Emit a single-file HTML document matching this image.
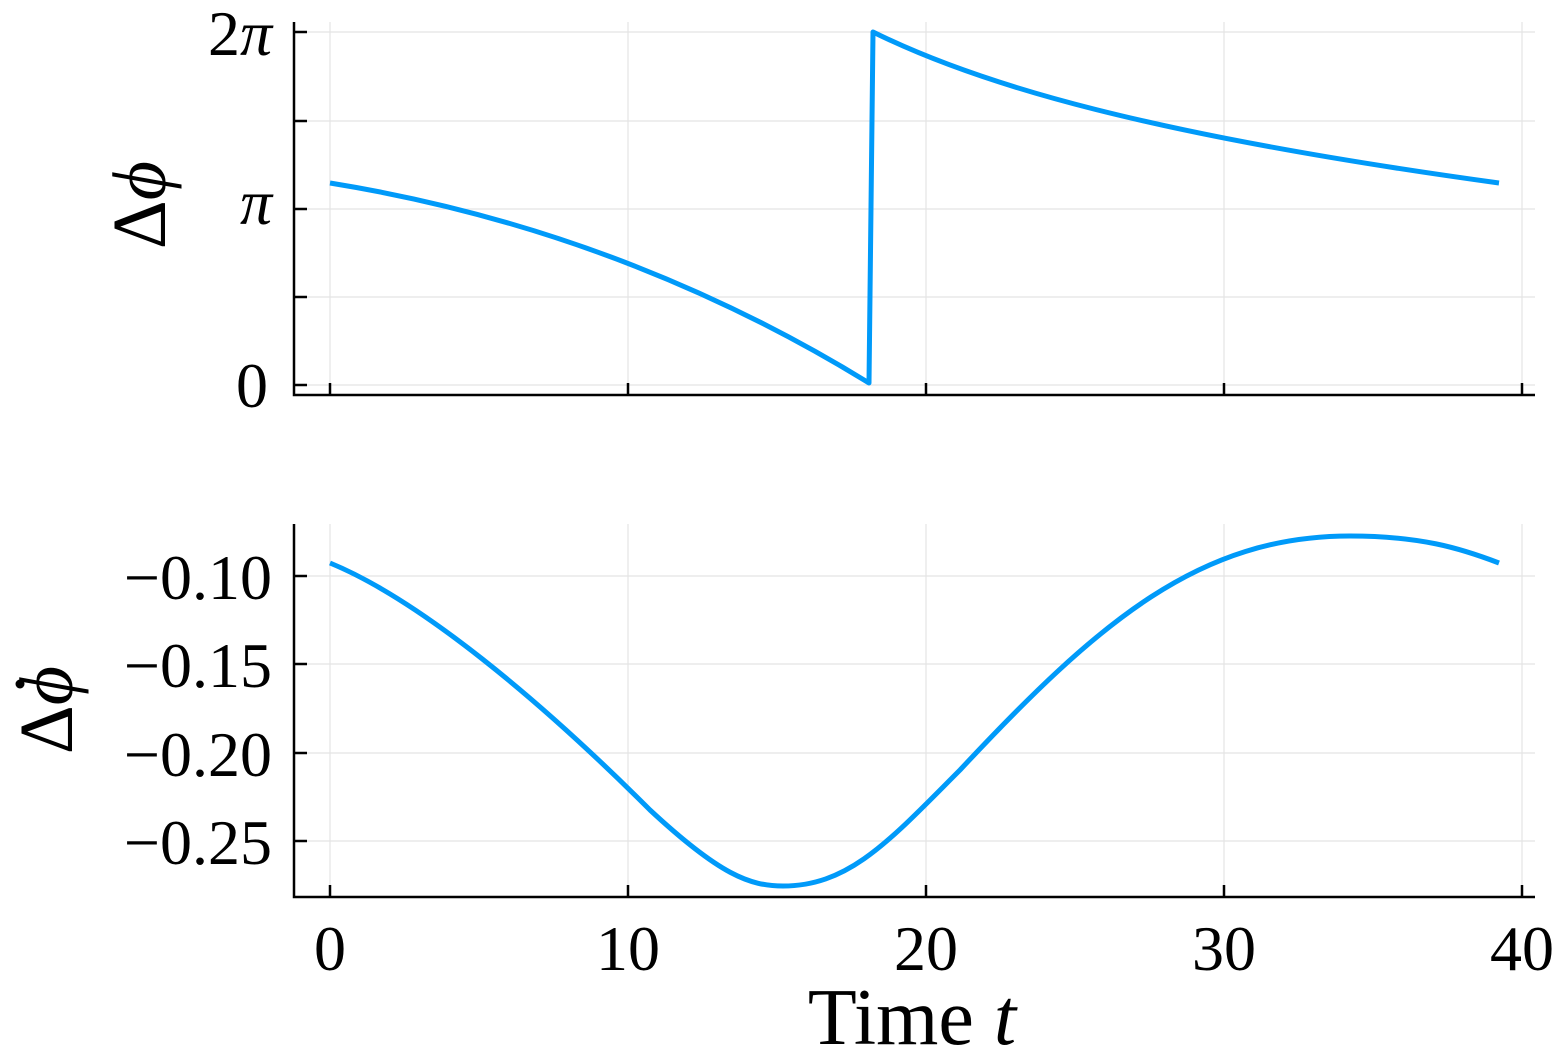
<!DOCTYPE html>
<html><head><style>
body{margin:0;background:#fff;}
svg{display:block}
text{font-family:"Liberation Serif","DejaVu Serif",serif;fill:#000}
</style></head><body>
<svg width="1564" height="1048" viewBox="0 0 1564 1048" xmlns="http://www.w3.org/2000/svg">
<g stroke="#e4e4e4" stroke-width="1.2">
<line x1="330" y1="22" x2="330" y2="395"/><line x1="628" y1="22" x2="628" y2="395"/><line x1="926" y1="22" x2="926" y2="395"/><line x1="1224" y1="22" x2="1224" y2="395"/><line x1="1522" y1="22" x2="1522" y2="395"/>
<line x1="294" y1="32" x2="1535" y2="32"/><line x1="294" y1="121" x2="1535" y2="121"/><line x1="294" y1="209" x2="1535" y2="209"/><line x1="294" y1="297" x2="1535" y2="297"/><line x1="294" y1="385" x2="1535" y2="385"/>
<line x1="330" y1="524" x2="330" y2="897"/><line x1="628" y1="524" x2="628" y2="897"/><line x1="926" y1="524" x2="926" y2="897"/><line x1="1224" y1="524" x2="1224" y2="897"/><line x1="1522" y1="524" x2="1522" y2="897"/>
<line x1="294" y1="576" x2="1535" y2="576"/><line x1="294" y1="664" x2="1535" y2="664"/><line x1="294" y1="753" x2="1535" y2="753"/><line x1="294" y1="841" x2="1535" y2="841"/>
</g>
<g stroke="#000" stroke-width="2.5" fill="none">
<polyline points="294,22 294,395 1535,395"/>
<polyline points="294,524 294,897 1535,897"/>
<path d="M294,32h13M294,121h13M294,209h13M294,297h13M294,385h13M330,395v-12M628,395v-12M926,395v-12M1224,395v-12M1522,395v-12"/>
<path d="M294,576h13M294,664h13M294,753h13M294,841h13M330,897v-12M628,897v-12M926,897v-12M1224,897v-12M1522,897v-12"/>
</g>
<g stroke="#009af9" stroke-width="5" fill="none" stroke-linejoin="round">
<path d="M330,183 Q620,230 869,383 L873,32 C980,85 1150,135 1499,183"/>
<path d="M330,563 C420,600 540,700 650,810 C720,875 750,886 783,886 C850,886 890,840 960,770 C1100,620 1200,536 1350,536 C1420,536 1460,548 1499,563"/>
</g>
<g font-size="64" text-anchor="end">
<text x="272" y="55">2<tspan font-style="italic">π</tspan></text>
<text x="272" y="224" font-style="italic">π</text>
<text x="268" y="407">0</text>
<text x="272" y="599">−0.10</text>
<text x="272" y="687">−0.15</text>
<text x="272" y="776">−0.20</text>
<text x="272" y="864">−0.25</text>
</g>
<g font-size="64" text-anchor="middle">
<text x="330" y="970">0</text><text x="628" y="970">10</text><text x="926" y="970">20</text><text x="1224" y="970">30</text><text x="1522" y="970">40</text>
</g>
<text x="912" y="1044" font-size="80" text-anchor="middle">Time <tspan font-style="italic">t</tspan></text>
<text transform="translate(165,205) rotate(-90)" font-size="76" text-anchor="middle">Δ<tspan font-style="italic">ϕ</tspan></text>
<text transform="translate(72,710) rotate(-90)" font-size="76" text-anchor="middle">Δ<tspan font-style="italic">ϕ</tspan></text>
<circle cx="20" cy="684" r="4.5" fill="#000"/>
</svg>
</body></html>
